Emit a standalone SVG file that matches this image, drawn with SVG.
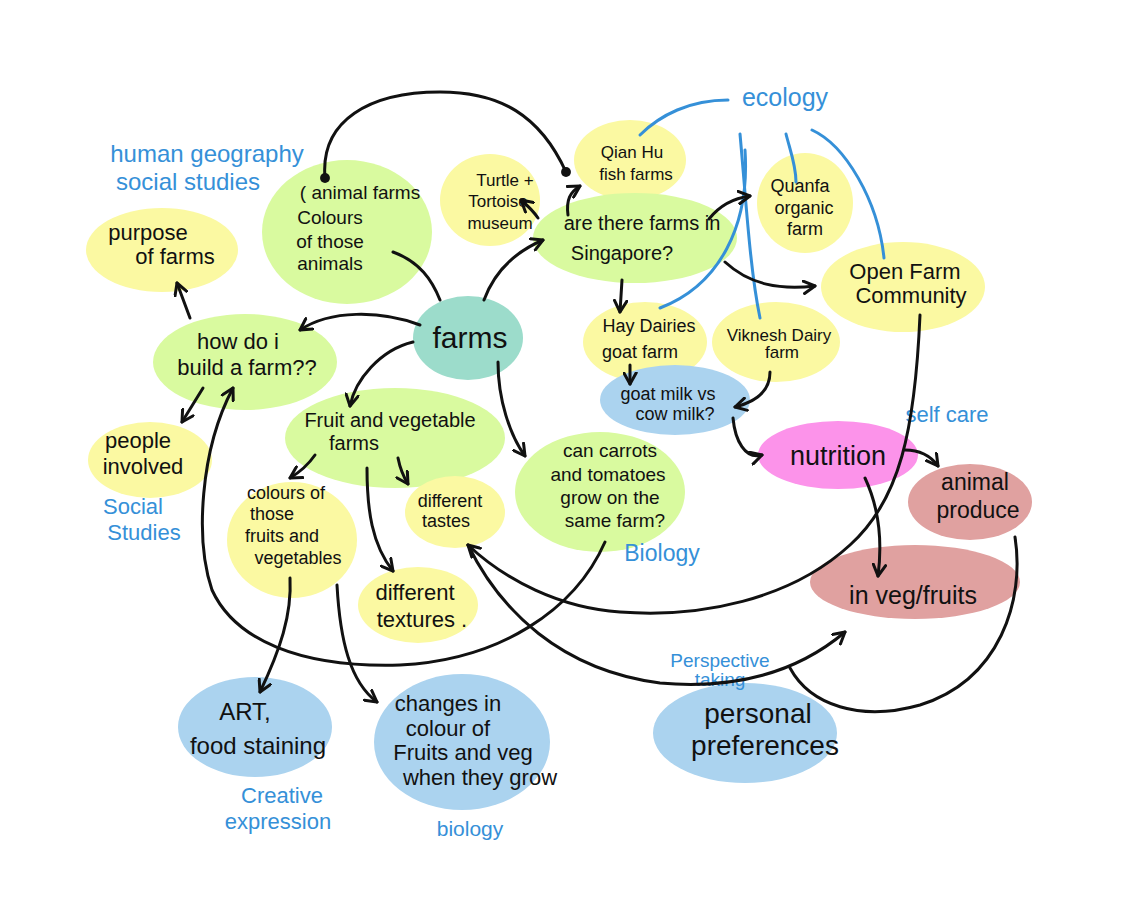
<svg xmlns="http://www.w3.org/2000/svg" width="1142" height="916" viewBox="0 0 1142 916">
<style>
.t{font-family:"Liberation Sans","DejaVu Sans",sans-serif;fill:#111;text-anchor:middle}
.b{font-family:"Liberation Sans","DejaVu Sans",sans-serif;fill:#3590d8;text-anchor:middle}
.g{fill:#d9fa9f}
.y{fill:#fbf9a2}
.tl{fill:#9cdccb}
.bl{fill:#abd3ef}
.pk{fill:#fc93ea}
.rs{fill:#e0a1a0}
.c{fill:none;stroke:#111;stroke-width:3;stroke-linecap:round;stroke-linejoin:round}
.e{fill:none;stroke:#3590d8;stroke-width:3;stroke-linecap:round}
</style>
<defs>
<marker id="arr" viewBox="0 0 12 12" refX="10" refY="6" markerWidth="15" markerHeight="15" markerUnits="userSpaceOnUse" orient="auto"><path d="M1,1 L10,6 L1,11" fill="none" stroke="#111" stroke-width="2.4" stroke-linecap="round" stroke-linejoin="round"/></marker>
<marker id="dot" viewBox="0 0 10 10" refX="5" refY="5" markerWidth="11" markerHeight="11" markerUnits="userSpaceOnUse"><circle cx="5" cy="5" r="4.5" fill="#111"/></marker>
</defs>
<rect width="1142" height="916" fill="#fff"/>

<g id="node-animal-farms"><ellipse class="g" cx="347" cy="232" rx="85" ry="72"/>
<text class="t" font-size="19"><tspan x="360" y="199">( animal farms</tspan><tspan x="330" y="224">Colours</tspan><tspan x="330" y="248">of those</tspan><tspan x="330" y="270">animals</tspan></text></g>
<g id="node-turtle"><ellipse class="y" cx="490" cy="200" rx="50" ry="46"/>
<text class="t" font-size="17"><tspan x="505" y="186">Turtle +</tspan><tspan x="498" y="207">Tortoise</tspan><tspan x="500" y="229">museum</tspan></text></g>
<g id="node-qianhu"><ellipse class="y" cx="630" cy="160" rx="56" ry="40"/>
<text class="t" font-size="17"><tspan x="632" y="158">Qian Hu</tspan><tspan x="636" y="180">fish farms</tspan></text></g>
<g id="node-singapore"><ellipse class="g" cx="635" cy="238" rx="102" ry="45"/>
<text class="t" font-size="20"><tspan x="642" y="230">are there farms in</tspan><tspan x="622" y="260">Singapore?</tspan></text></g>
<g id="node-quanfa"><ellipse class="y" cx="805" cy="203" rx="48" ry="50"/>
<text class="t" font-size="18"><tspan x="800" y="192">Quanfa</tspan><tspan x="804" y="214">organic</tspan><tspan x="805" y="235">farm</tspan></text></g>
<g id="node-openfarm"><ellipse class="y" cx="903" cy="287" rx="82" ry="45"/>
<text class="t" font-size="22"><tspan x="905" y="279">Open Farm</tspan><tspan x="911" y="303">Community</tspan></text></g>
<g id="node-purpose"><ellipse class="y" cx="162" cy="250" rx="76" ry="42"/>
<text class="t" font-size="22"><tspan x="148" y="240">purpose</tspan><tspan x="175" y="264">of farms</tspan></text></g>
<g id="node-farms"><ellipse class="tl" cx="468" cy="338" rx="55" ry="42"/>
<text class="t" font-size="30" x="470" y="348">farms</text></g>
<g id="node-howbuild"><ellipse class="g" cx="245" cy="362" rx="92" ry="48"/>
<text class="t" font-size="22"><tspan x="238" y="349">how do i</tspan><tspan x="247" y="375">build a farm??</tspan></text></g>
<g id="node-people"><ellipse class="y" cx="150" cy="460" rx="62" ry="38"/>
<text class="t" font-size="22"><tspan x="138" y="448">people</tspan><tspan x="143" y="474">involved</tspan></text></g>
<g id="node-hay"><ellipse class="y" cx="645" cy="342" rx="62" ry="40"/>
<text class="t" font-size="18"><tspan x="649" y="332">Hay Dairies</tspan><tspan x="640" y="358">goat farm</tspan></text></g>
<g id="node-viknesh"><ellipse class="y" cx="776" cy="342" rx="64" ry="40"/>
<text class="t" font-size="17"><tspan x="779" y="341">Viknesh Dairy</tspan><tspan x="782" y="358">farm</tspan></text></g>
<g id="node-goatmilk"><ellipse class="bl" cx="675" cy="400" rx="75" ry="35"/>
<text class="t" font-size="18"><tspan x="668" y="400">goat milk vs</tspan><tspan x="675" y="420">cow milk?</tspan></text></g>
<g id="node-nutrition"><ellipse class="pk" cx="838" cy="455" rx="80" ry="34"/>
<text class="t" font-size="27" x="838" y="465">nutrition</text></g>
<g id="node-animalproduce"><ellipse class="rs" cx="970" cy="502" rx="62" ry="38"/>
<text class="t" font-size="23"><tspan x="975" y="490">animal</tspan><tspan x="978" y="518">produce</tspan></text></g>
<g id="node-vegfruits"><ellipse class="rs" cx="915" cy="582" rx="105" ry="37"/>
<text class="t" font-size="25" x="913" y="604">in veg/fruits</text></g>
<g id="node-carrots"><ellipse class="g" cx="600" cy="492" rx="85" ry="60"/>
<text class="t" font-size="19"><tspan x="610" y="457">can carrots</tspan><tspan x="608" y="481">and tomatoes</tspan><tspan x="610" y="504">grow on the</tspan><tspan x="615" y="527">same farm?</tspan></text></g>
<g id="node-fruitveg"><ellipse class="g" cx="395" cy="438" rx="110" ry="50"/>
<text class="t" font-size="20"><tspan x="390" y="427">Fruit and vegetable</tspan><tspan x="354" y="450">farms</tspan></text></g>
<g id="node-colours"><ellipse class="y" cx="292" cy="540" rx="65" ry="58"/>
<text class="t" font-size="18"><tspan x="286" y="499">colours of</tspan><tspan x="272" y="520">those</tspan><tspan x="282" y="542">fruits and</tspan><tspan x="298" y="564">vegetables</tspan></text></g>
<g id="node-tastes"><ellipse class="y" cx="455" cy="512" rx="50" ry="36"/>
<text class="t" font-size="18"><tspan x="450" y="507">different</tspan><tspan x="446" y="527">tastes</tspan></text></g>
<g id="node-textures"><ellipse class="y" cx="418" cy="605" rx="60" ry="38"/>
<text class="t" font-size="22"><tspan x="415" y="600">different</tspan><tspan x="422" y="627">textures .</tspan></text></g>
<g id="node-art"><ellipse class="bl" cx="255" cy="727" rx="77" ry="50"/>
<text class="t" font-size="24"><tspan x="245" y="720">ART,</tspan><tspan x="258" y="754">food staining</tspan></text></g>
<g id="node-changes"><ellipse class="bl" cx="462" cy="742" rx="88" ry="68"/>
<text class="t" font-size="22"><tspan x="448" y="711">changes in</tspan><tspan x="448" y="736">colour of</tspan><tspan x="463" y="760">Fruits and veg</tspan><tspan x="480" y="785">when they grow</tspan></text></g>
<g id="node-personal"><ellipse class="bl" cx="745" cy="733" rx="92" ry="50"/>
<text class="t" font-size="28"><tspan x="758" y="723">personal</tspan><tspan x="765" y="755">preferences</tspan></text></g>

<g id="labels">
<text class="b" font-size="24"><tspan x="207" y="162">human geography</tspan><tspan x="188" y="190">social studies</tspan></text>
<text class="b" font-size="25" x="785" y="106">ecology</text>
<text class="b" font-size="22" x="947" y="422">self care</text>
<text class="b" font-size="22"><tspan x="133" y="514">Social</tspan><tspan x="144" y="540">Studies</tspan></text>
<text class="b" font-size="23" x="662" y="561">Biology</text>
<text class="b" font-size="19"><tspan x="720" y="667">Perspective</tspan><tspan x="720" y="686">taking</tspan></text>
<text class="b" font-size="22"><tspan x="282" y="803">Creative</tspan><tspan x="278" y="829">expression</tspan></text>
<text class="b" font-size="21" x="470" y="836">biology</text>
</g>

<g id="connectors">
<path class="e" d="M728,100 C690,100 660,115 640,135"/>
<path class="e" d="M740,134 C746,200 750,270 760,318"/>
<path class="e" d="M745,150 C750,225 720,285 660,308"/>
<path class="e" d="M786,134 C790,150 796,165 796,182"/>
<path class="e" d="M812,130 C845,145 878,200 884,258"/>

<path class="c" d="M325,178 C320,120 370,92 440,92 C500,92 540,115 566,172" marker-start="url(#dot)" marker-end="url(#dot)"/>
<path class="c" d="M393,252 C420,262 432,280 440,300"/>
<path class="c" d="M484,300 C495,270 515,252 543,240" marker-end="url(#arr)"/>
<path class="c" d="M538,218 C534,212 528,206 521,200" marker-end="url(#arr)"/>
<path class="c" d="M568,215 C566,200 570,192 580,186" marker-end="url(#arr)"/>
<path class="c" d="M709,219 C720,205 735,198 750,196" marker-end="url(#arr)"/>
<path class="c" d="M725,262 C750,285 780,290 815,286" marker-end="url(#arr)"/>
<path class="c" d="M622,280 L620,312" marker-end="url(#arr)"/>
<path class="c" d="M630,365 L630,384" marker-end="url(#arr)"/>
<path class="c" d="M770,372 C770,392 755,402 735,407" marker-end="url(#arr)"/>
<path class="c" d="M733,418 C735,440 745,460 762,455" marker-end="url(#arr)"/>
<path class="c" d="M905,450 C920,450 930,455 938,466" marker-end="url(#arr)"/>
<path class="c" d="M865,478 C880,510 882,545 878,576" marker-end="url(#arr)"/>
<path class="c" d="M420,325 C380,310 330,310 300,330" marker-end="url(#arr)"/>
<path class="c" d="M413,342 C380,350 355,380 350,406" marker-end="url(#arr)"/>
<path class="c" d="M498,362 C498,400 510,435 525,456" marker-end="url(#arr)"/>
<path class="c" d="M203,388 L182,422" marker-end="url(#arr)"/>
<path class="c" d="M190,318 L177,283" marker-end="url(#arr)"/>
<path class="c" d="M315,455 C308,465 300,472 290,478" marker-end="url(#arr)"/>
<path class="c" d="M398,458 C400,468 403,476 408,484" marker-end="url(#arr)"/>
<path class="c" d="M367,468 C367,510 372,545 393,571" marker-end="url(#arr)"/>
<path class="c" d="M290,578 C292,615 280,650 260,692" marker-end="url(#arr)"/>
<path class="c" d="M337,585 C340,640 350,682 377,702" marker-end="url(#arr)"/>
<path class="c" d="M605,542 C575,610 500,660 400,665 C300,668 235,640 212,590 C195,540 200,450 233,388" marker-end="url(#arr)"/>
<path class="c" d="M920,315 C915,430 900,500 850,545 C790,600 700,618 620,612 C560,608 505,580 468,545" marker-end="url(#arr)"/>
<path class="c" d="M468,545 C500,610 560,670 660,683 C740,690 800,670 845,632" marker-end="url(#arr)"/>
<path class="c" d="M1015,537 C1025,600 1000,680 920,705 C860,722 810,705 790,668"/>
</g>
</svg>
